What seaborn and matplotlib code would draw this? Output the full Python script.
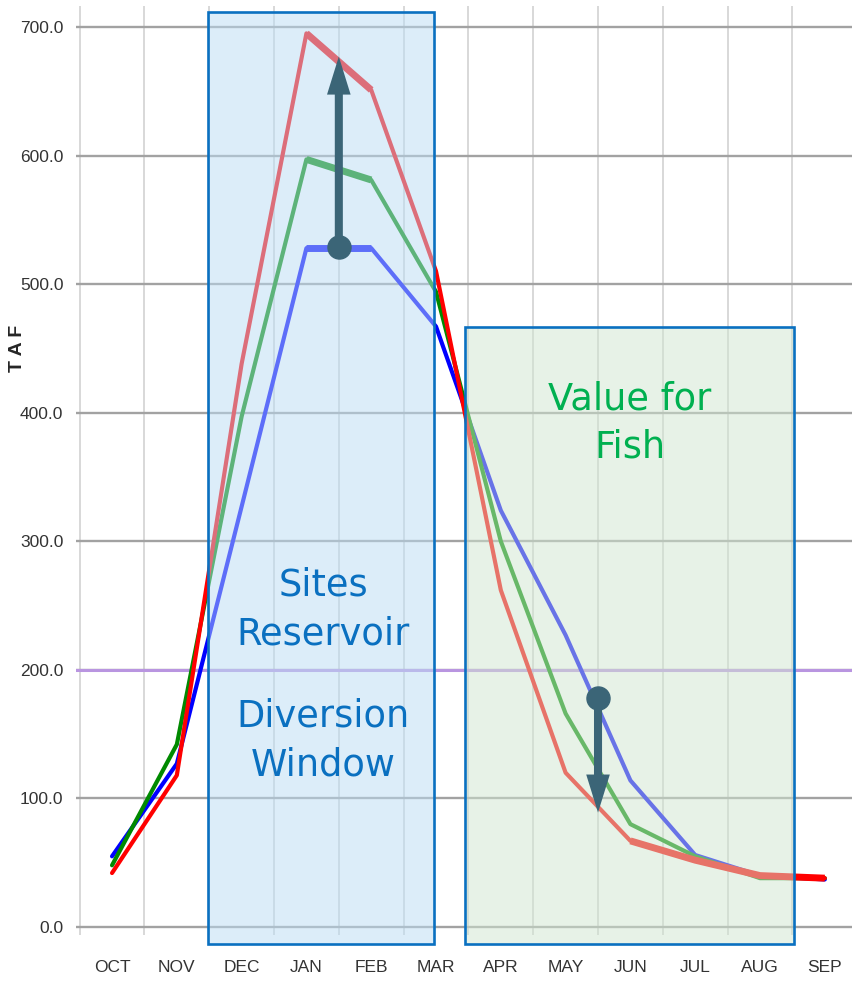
import numpy as np
import pandas as pd
import seaborn as sns
import matplotlib.pyplot as plt
from matplotlib.patches import Rectangle, FancyArrowPatch

# monthly storage (TAF)
months = ['OCT', 'NOV', 'DEC', 'JAN', 'FEB', 'MAR', 'APR', 'MAY', 'JUN', 'JUL', 'AUG', 'SEP']
red_taf = [42, 118, 438, 695, 651, 510, 262, 120, 67, 52, 40, 38]
green_taf = [48, 142, 397, 597, 581, 494, 300, 166, 80, 55, 38, 38]
blue_taf = [55, 127, 327, 528, 528, 467, 324, 227, 114, 56, 40, 37]
y_ticks = [0, 100, 200, 300, 400, 500, 600, 700]

# arrows (x in month index, y in TAF)
up_arrow = [3.5, 529, 677]
down_arrow = [7.5, 178, 89]

sns.set_style('white')
plt.rcParams['font.family'] = ['DejaVu Sans']

df = pd.DataFrame({
    'month': list(range(12)) * 3,
    'taf': blue_taf + green_taf + red_taf,
    'series': ['blue'] * 12 + ['green'] * 12 + ['red'] * 12,
})
pal = {'blue': '#0000ff', 'green': '#008a00', 'red': '#ff0000'}

fig = plt.figure(figsize=(8.53, 9.83), dpi=100)
ax = fig.add_axes([76 / 853, 1 - 935 / 983, 1 - 76 / 853, (935 - 6) / 983])

sns.lineplot(data=df, x='month', y='taf', hue='series', palette=pal,
             sort=False, linewidth=3, legend=False, ax=ax, zorder=3,
             solid_capstyle='round')

# thicker stretches of the lines
thick = [(blue_taf, 'blue', 3, 5), (green_taf, 'green', 3, 5),
         (red_taf, 'red', 3, 5), (red_taf, 'red', 8, 12)]
for vals, key, a, b in thick:
    sns.lineplot(x=list(range(a, b)), y=vals[a:b], color=pal[key],
                 linewidth=5, ax=ax, zorder=3, solid_capstyle='butt')

ax.axhline(200, color='#b995e0', lw=2.2, zorder=2)

ax.set_xlim(-0.556, 11.435)
ax.set_ylim(-6.2, 716.3)
ax.set_xticks(range(12))
ax.set_xticklabels(months)
ax.set_xticks(np.arange(-0.5, 11, 1), minor=True)
ax.set_yticks(y_ticks)
ax.set_yticklabels([f'{v:.1f}' for v in y_ticks])
ax.grid(which='minor', axis='x', color='#d2d2d2', lw=1.2)
ax.grid(which='major', axis='y', color='#a2a2a2', lw=1.7)
ax.grid(which='major', axis='x', visible=False)
ax.set_axisbelow(True)
ax.tick_params(which='both', length=0)
ax.tick_params(axis='y', pad=9)
ax.tick_params(axis='x', pad=18)
for lab in ax.get_xticklabels() + ax.get_yticklabels():
    lab.set_family(['Liberation Sans Narrow', 'Liberation Sans', 'DejaVu Sans'])
    lab.set_fontsize(12.5)
    lab.set_color('#333333')
for s in ax.spines.values():
    s.set_visible(False)
ax.set_xlabel('')
ax.set_ylabel('')

# shaded windows drawn over the lines
ax.add_patch(Rectangle((1.48, -13), 4.97 - 1.48, 711.5 + 13,
                       facecolor=(187 / 255, 221 / 255, 245 / 255, 0.5),
                       edgecolor='none', zorder=4, clip_on=False))
ax.add_patch(Rectangle((1.48, -13), 4.97 - 1.48, 711.5 + 13,
                       facecolor='none', edgecolor='#0a70c0', lw=1.9,
                       zorder=5, clip_on=False))
ax.add_patch(Rectangle((5.45, -13), 10.52 - 5.45, 466.7 + 13,
                       facecolor=(209 / 255, 230 / 255, 209 / 255, 0.5),
                       edgecolor='none', zorder=4, clip_on=False))
ax.add_patch(Rectangle((5.45, -13), 10.52 - 5.45, 466.7 + 13,
                       facecolor='none', edgecolor='#0a70c0', lw=1.9,
                       zorder=5, clip_on=False))

ax.text(3.26, 247, 'Sites\nReservoir', ha='center', va='center',
        fontsize=26.5, color='#0a70c0', linespacing=1.4, zorder=6)
ax.text(3.26, 145, 'Diversion\nWindow', ha='center', va='center',
        fontsize=26.5, color='#0a70c0', linespacing=1.4, zorder=6)
ax.text(7.99, 392, 'Value for\nFish', ha='center', va='center',
        fontsize=26.5, color='#00b050', linespacing=1.4, zorder=6)

arrow_col = '#3b6577'
for x, y0, y1 in [up_arrow, down_arrow]:
    ax.add_patch(FancyArrowPatch((x, y0), (x, y1), arrowstyle='simple,head_length=1.37,head_width=0.85,tail_width=0.29',
                                 mutation_scale=20, color=arrow_col, lw=0,
                                 shrinkA=0, shrinkB=0, zorder=7))
    ax.plot([x], [y0], 'o', ms=16.6, color=arrow_col, zorder=8)

fig.text(18 / 853, 1 - 348 / 983, 'T A F', rotation=90, ha='center', va='center',
         fontsize=14, fontweight='bold', family=['Liberation Sans', 'DejaVu Sans'])

fig.savefig('out.png', dpi=100)
